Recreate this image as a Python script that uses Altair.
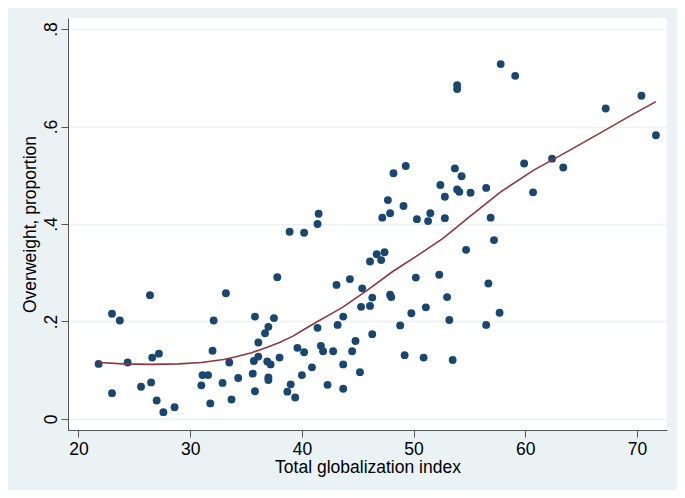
import altair as alt
import pandas as pd

# Scatter data: total globalization index vs. overweight proportion
glob_index = [
    21.8, 23.0, 23.0, 23.7, 24.4, 25.6, 26.4, 26.5, 26.6, 27.0, 27.2, 27.6, 28.6,
    31.0, 31.1, 31.6, 31.8, 32.0, 32.1, 32.9, 33.2, 33.5, 33.7, 34.3, 35.6, 35.7,
    35.8, 35.8, 36.1, 36.1, 36.7, 37.0, 37.5, 36.9, 37.2, 37.0, 37.0, 37.8, 38.0,
    38.7, 38.9, 39.0, 39.4, 39.6, 40.0, 40.2, 40.2, 40.9, 41.4, 41.4, 41.5, 41.7,
    41.9, 42.3, 42.8, 43.1, 43.2, 43.7, 43.7, 43.7, 44.3, 44.5, 44.8, 45.2, 45.3,
    45.4, 46.1, 46.3, 46.3, 46.1, 46.7, 47.1, 47.4, 47.2, 47.7, 47.9, 47.9, 48.0,
    48.2, 48.8, 49.1, 49.2, 49.3, 49.8, 50.2, 50.3, 50.9, 51.1, 51.3, 51.5, 52.3,
    52.4, 52.8, 52.8, 53.0, 53.2, 53.5, 53.7, 53.9, 53.9, 53.9, 54.1, 54.3, 54.7,
    55.1, 56.5, 56.5, 56.7, 56.9, 57.2, 57.7, 57.8, 59.1, 59.9, 60.7, 62.4, 63.4,
    67.2, 70.4, 71.7,
]
overweight = [
    0.113, 0.053, 0.216, 0.202, 0.116, 0.066, 0.254, 0.075, 0.126, 0.038, 0.134, 0.014, 0.024,
    0.069, 0.090, 0.090, 0.032, 0.140, 0.202, 0.074, 0.258, 0.116, 0.040, 0.084, 0.093, 0.119,
    0.057, 0.210, 0.128, 0.157, 0.176, 0.189, 0.207, 0.118, 0.112, 0.085, 0.080, 0.291, 0.126,
    0.056, 0.384, 0.071, 0.044, 0.146, 0.090, 0.382, 0.137, 0.106, 0.187, 0.400, 0.421, 0.150,
    0.139, 0.070, 0.139, 0.275, 0.193, 0.210, 0.112, 0.062, 0.287, 0.139, 0.160, 0.096, 0.230,
    0.268, 0.232, 0.249, 0.174, 0.323, 0.338, 0.326, 0.342, 0.413, 0.449, 0.422, 0.255, 0.250,
    0.504, 0.192, 0.437, 0.131, 0.519, 0.217, 0.290, 0.410, 0.126, 0.229, 0.406, 0.422, 0.296,
    0.480, 0.456, 0.412, 0.250, 0.203, 0.121, 0.514, 0.685, 0.677, 0.471, 0.466, 0.498, 0.347,
    0.464, 0.474, 0.193, 0.278, 0.413, 0.367, 0.218, 0.728, 0.704, 0.524, 0.465, 0.534, 0.516,
    0.637, 0.663, 0.582,
]

# Lowess curve
lowess_x = [21.8, 24.0, 26.5, 29.0, 31.0, 33.0, 34.0, 35.5, 36.9, 38.0, 39.2, 40.3,
            41.4, 42.5, 43.7, 45.9, 48.1, 50.4, 52.6, 53.9, 54.8, 57.8, 60.8,
            63.8, 66.8, 69.7, 71.7]
lowess_y = [0.116, 0.113, 0.112, 0.113, 0.116, 0.122, 0.127, 0.136, 0.147, 0.157, 0.170, 0.185,
            0.200, 0.214, 0.230, 0.265, 0.302, 0.336, 0.370, 0.394, 0.411, 0.466, 0.511,
            0.549, 0.588, 0.626, 0.651]

x_ticks = [20, 30, 40, 50, 60, 70]
y_ticks = [0, 0.2, 0.4, 0.6, 0.8]

pts = pd.DataFrame({"x": glob_index, "y": overweight})
fit = pd.DataFrame({"x": lowess_x, "y": lowess_y})

FONT = "Liberation Sans"
BG = "#EAF2F3"

xscale = alt.Scale(domain=[19.06, 72.69], nice=False, zero=False)
yscale = alt.Scale(domain=[-0.0226, 0.8226], nice=False, zero=False)

xaxis = alt.Axis(
    values=x_ticks, title="Total globalization index", grid=False,
    labelFont=FONT, labelFontSize=17.5, labelColor="black", labelPadding=3,
    titleFont=FONT, titleFontSize=17.5, titleFontWeight="normal", titleColor="black",
    titlePadding=1, domainColor="#555555", domainWidth=1, tickColor="#555555",
    tickSize=7, tickWidth=1,
)
yaxis = alt.Axis(
    values=y_ticks, title="Overweight, proportion", grid=True, gridColor=BG, gridWidth=1.5,
    labelExpr="datum.value == 0 ? '0' : replace(format(datum.value, '.1f'), '0.', '.')",
    labelAngle=270, labelAlign="center", labelBaseline="bottom",
    labelFont=FONT, labelFontSize=17.5, labelColor="black", labelPadding=1,
    titleFont=FONT, titleFontSize=17.5, titleFontWeight="normal", titleColor="black",
    titlePadding=3, domainColor="#555555", domainWidth=1, tickColor="#555555",
    tickSize=7, tickWidth=1,
)

points = alt.Chart(pts).mark_point(filled=True, size=62, opacity=1, color="#1a476f").encode(
    x=alt.X("x:Q", scale=xscale, axis=xaxis),
    y=alt.Y("y:Q", scale=yscale, axis=yaxis),
)
line = alt.Chart(fit).mark_line(color="#90353b", strokeWidth=1.6).encode(
    x=alt.X("x:Q", scale=xscale),
    y=alt.Y("y:Q", scale=yscale),
)

chart = alt.layer(points, line).properties(
    width=599, height=412,
    autosize=alt.AutoSizeParams(type="none"),
    padding={"left": 60, "top": 10, "right": 10, "bottom": 60},
    background=BG,
).configure_view(fill="white", stroke=None)

chart.save("out.html", embed_options={"renderer": "svg", "actions": False})
